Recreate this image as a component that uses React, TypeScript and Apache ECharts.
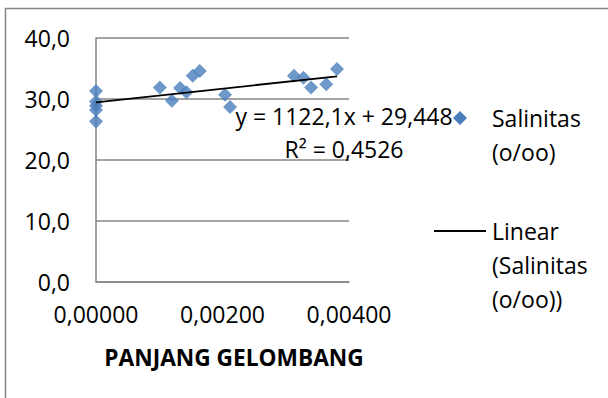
import React, { useEffect, useRef } from "react";
import * as echarts from "echarts";

// Wavelength (x) and salinity (y) observations
const panjangGelombang = [
  0, 0, 0, 0, 0,
  0.00101, 0.0012, 0.00133, 0.00143, 0.00153, 0.00164,
  0.00204, 0.00212,
  0.00313, 0.00328, 0.0034, 0.00364, 0.00381,
];
const salinitas = [
  31.3, 29.6, 28.9, 28.2, 26.3,
  31.9, 29.7, 31.8, 31.1, 33.8, 34.6,
  30.7, 28.7,
  33.8, 33.5, 31.9, 32.4, 34.9,
];

// Linear trendline coefficients
const slope = 1122.1;
const intercept = 29.448;
const rSquared = 0.4526;

const seriesName = "Salinitas (o/oo)";
const trendName = "Linear (Salinitas (o/oo))";
const axisTitle = "PANJANG GELOMBANG";

const FONT = "'Open Sans', sans-serif";
const GREY = "#868686";
const BLUE = "#4A7EBB";

const fmtComma = (v: number, d: number) => v.toFixed(d).replace(".", ",");

export default function App() {
  const ref = useRef<HTMLDivElement>(null);

  useEffect(() => {
    if (!ref.current) return;
    const chart = echarts.init(ref.current, null, { renderer: "svg" });

    const points = panjangGelombang.map((x, i) => [x, salinitas[i]]);
    const xMax = Math.max(...panjangGelombang);
    const trend = [
      [0, intercept],
      [xMax, intercept + slope * xMax],
    ];

    chart.setOption({
      animation: false,
      backgroundColor: "#ffffff",
      textStyle: { fontFamily: FONT },
      grid: { left: 96, top: 38, width: 253, height: 244 },
      xAxis: {
        type: "value",
        min: 0,
        max: 0.004,
        interval: 0.002,
        axisLine: { show: true, lineStyle: { color: GREY, width: 1.5 } },
        axisTick: { show: false },
        splitLine: { show: false },
        axisLabel: {
          color: "#000",
          fontFamily: FONT,
          fontSize: 23,
          margin: 20,
          formatter: (v: number) => fmtComma(v, 5),
        },
      },
      yAxis: {
        type: "value",
        min: 0,
        max: 40,
        interval: 10,
        axisLine: { show: true, lineStyle: { color: GREY, width: 1.5 } },
        axisTick: { show: false },
        splitLine: { show: true, lineStyle: { color: GREY, width: 1.5 } },
        axisLabel: {
          color: "#000",
          fontFamily: FONT,
          fontSize: 23,
          margin: 26,
          formatter: (v: number) => fmtComma(v, 1),
        },
      },
      series: [
        {
          name: seriesName,
          type: "scatter",
          symbol: "diamond",
          symbolSize: 14,
          itemStyle: { color: BLUE },
          data: points,
          z: 2,
        },
        {
          name: trendName,
          type: "line",
          showSymbol: false,
          symbol: "none",
          lineStyle: { color: "#000", width: 1.8 },
          data: trend,
          z: 3,
        },
      ],
      graphic: [
        // outer chart frame
        {
          type: "rect",
          shape: { x: 5.5, y: 8.5, width: 700, height: 500 },
          style: { fill: "none", stroke: GREY, lineWidth: 1.5 },
          silent: true,
        },
        // trendline equation
        {
          type: "text",
          x: 344,
          y: 99,
          z: 10,
          style: {
            text:
              "y = " + fmtComma(slope, 1) + "x + " + fmtComma(intercept, 3) +
              "\nR² = " + fmtComma(rSquared, 4),
            fill: "#000",
            font: `23px ${FONT}`,
            align: "center",
            verticalAlign: "top",
            lineHeight: 33,
          },
        },
        // legend: scatter series
        {
          type: "polygon",
          shape: { points: [[460, 111], [467, 118], [460, 125], [453, 118]] },
          style: { fill: BLUE },
        },
        {
          type: "text",
          x: 492,
          y: 101,
          style: {
            text: "Salinitas\n(o/oo)",
            fill: "#000",
            font: `23px ${FONT}`,
            lineHeight: 34,
            verticalAlign: "top",
          },
        },
        // legend: trendline
        {
          type: "line",
          shape: { x1: 434, y1: 231, x2: 486, y2: 231 },
          style: { stroke: "#000", lineWidth: 1.8 },
        },
        {
          type: "text",
          x: 492,
          y: 214,
          style: {
            text: "Linear\n(Salinitas\n(o/oo))",
            fill: "#000",
            font: `23px ${FONT}`,
            lineHeight: 34,
            verticalAlign: "top",
          },
        },
        // x-axis title
        {
          type: "text",
          x: 234,
          y: 357,
          style: {
            text: axisTitle,
            fill: "#000",
            font: `bold 22.7px ${FONT}`,
            align: "center",
            verticalAlign: "middle",
          },
        },
      ],
    });

    return () => chart.dispose();
  }, []);

  return (
    <div
      ref={ref}
      style={{ position: "absolute", left: 0, top: 0, width: 608, height: 398 }}
    />
  );
}
